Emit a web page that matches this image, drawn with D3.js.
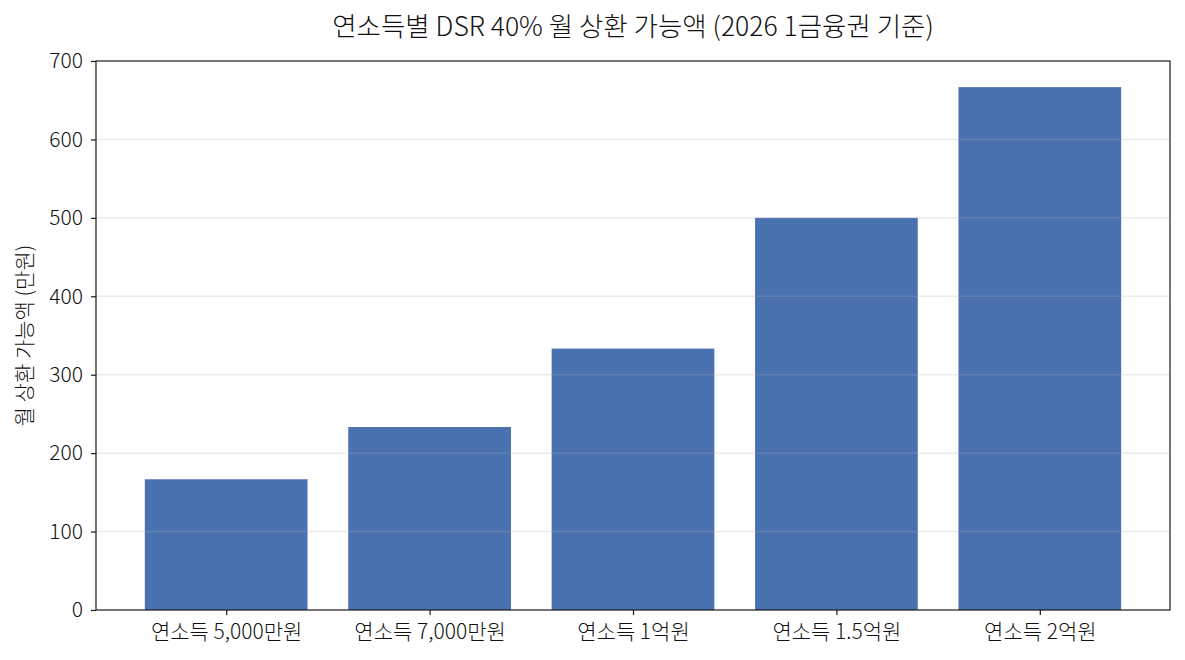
<!DOCTYPE html>
<html>
<head>
<meta charset="utf-8">
<script src="https://cdn.jsdelivr.net/npm/d3@7"></script>
<style>
  body { margin: 0; background: #fff; }
  text { font-family: "Noto Sans CJK KR", "Noto Sans", sans-serif; font-weight: 300; fill: #111; }
</style>
</head>
<body>
<div id="chart"></div>
<script>
const categories = ["연소득 5,000만원", "연소득 7,000만원", "연소득 1억원", "연소득 1.5억원", "연소득 2억원"];
const payments = [166.7, 233.3, 333.3, 500.0, 666.7];
const yTicks = [0, 100, 200, 300, 400, 500, 600, 700];

const width = 1185, height = 660;
const margin = {top: 61, right: 15, bottom: 50, left: 96};
const plotW = width - margin.left - margin.right;
const plotH = height - margin.top - margin.bottom;

const svg = d3.select("#chart").append("svg")
  .attr("width", width)
  .attr("height", height);

const g = svg.append("g").attr("transform", `translate(${margin.left},${margin.top})`);

const x = d3.scaleLinear().domain([-0.64, categories.length - 1 + 0.64]).range([0, plotW]);
const y = d3.scaleLinear().domain([0, 700]).range([plotH, 0]);
const barW = x(0.8) - x(0);

// bars
g.selectAll("rect.bar")
  .data(payments)
  .enter()
  .append("rect")
  .attr("class", "bar")
  .attr("x", (d, i) => x(i - 0.4))
  .attr("y", d => y(d))
  .attr("width", barW)
  .attr("height", d => plotH - y(d))
  .attr("fill", "#4a72b0");

// grid over the bars
g.selectAll("line.grid")
  .data(yTicks.slice(1, -1))
  .enter()
  .append("line")
  .attr("class", "grid")
  .attr("x1", 0).attr("x2", plotW)
  .attr("y1", d => y(d)).attr("y2", d => y(d))
  .attr("stroke", "#b0b0b0")
  .attr("stroke-opacity", 0.25)
  .attr("stroke-width", 1.5);

const yAxis = g.append("g")
  .call(d3.axisLeft(y).tickValues(yTicks).tickSize(5).tickPadding(8));
const xAxis = g.append("g")
  .attr("transform", `translate(0,${plotH})`)
  .call(d3.axisBottom(x).tickValues(d3.range(categories.length)).tickFormat(i => categories[i]).tickSize(5).tickPadding(9));

[yAxis, xAxis].forEach(a => {
  a.select(".domain").remove();
  a.selectAll(".tick line").attr("stroke", "#1a1a1a").attr("stroke-width", 1.2);
  a.selectAll(".tick text").style("font-size", "21px").attr("fill", "#111");
});

// frame
g.append("rect")
  .attr("width", plotW).attr("height", plotH)
  .attr("fill", "none").attr("stroke", "#1a1a1a").attr("stroke-width", 1.2);

svg.append("text")
  .attr("x", margin.left + plotW / 2)
  .attr("y", 36)
  .attr("text-anchor", "middle")
  .style("font-size", "26.5px")
  .text("연소득별 DSR 40% 월 상환 가능액 (2026 1금융권 기준)");

svg.append("text")
  .attr("transform", `translate(32,${margin.top + plotH / 2}) rotate(-90)`)
  .attr("text-anchor", "middle")
  .style("font-size", "21px")
  .text("월 상환 가능액 (만원)");
</script>
</body>
</html>
